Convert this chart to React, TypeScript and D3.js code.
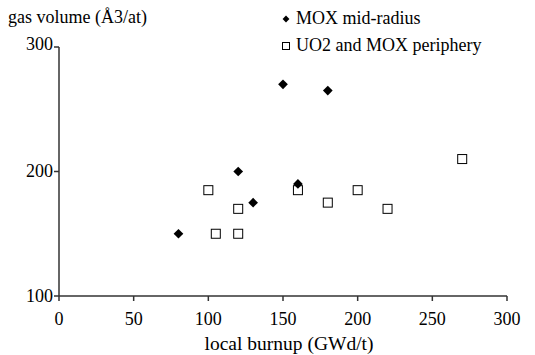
import React from "react";
import * as d3 from "d3";

const moxX = [80, 120, 130, 150, 160, 180];
const moxY = [150, 200, 175, 270, 190, 265];
const uoX = [100, 105, 120, 120, 160, 180, 200, 220, 270];
const uoY = [185, 150, 170, 150, 185, 175, 185, 170, 210];
const xTicks = [0, 50, 100, 150, 200, 250, 300];
const yTicks = [100, 200, 300];
const legendLabels = ["MOX mid-radius", "UO2 and MOX periphery"];

const W = 535, H = 355;
const FONT = "'Liberation Serif', 'Times New Roman', serif";

export default function App() {
  const x = d3.scaleLinear().domain([0, 300]).range([59, 507]);
  const y = d3.scaleLinear().domain([100, 300]).range([296, 47]);
  const diamond = d3.symbol().type(d3.symbolDiamond2).size(60)();
  const axisColor = "#333";
  return (
    <svg width={W} height={H} style={{ position: "absolute", left: 0, top: 0, background: "#fff" }}>
      <rect width={W} height={H} fill="#fff" />
      <line x1={x(0)} x2={x(0)} y1={y(300)} y2={y(100)} stroke={axisColor} strokeWidth={1.5} />
      <line x1={x(0)} x2={x(300)} y1={y(100)} y2={y(100)} stroke={axisColor} strokeWidth={1.5} />
      {yTicks.map((t) => (
        <g key={"y" + t}>
          <line x1={x(0) - 5} x2={x(0)} y1={y(t)} y2={y(t)} stroke={axisColor} strokeWidth={1.5} />
          <text x={x(0) - 6} y={y(t) - (t === 300 ? 3 : 0)} dy="0.33em" textAnchor="end" fontFamily={FONT} fontSize={18} fill="#000">{t}</text>
        </g>
      ))}
      {xTicks.map((t) => (
        <g key={"x" + t}>
          <line x1={x(t)} x2={x(t)} y1={y(100)} y2={y(100) + 5} stroke={axisColor} strokeWidth={1.5} />
          <text x={x(t)} y={y(100) + 29} textAnchor="middle" fontFamily={FONT} fontSize={18} fill="#000">{t}</text>
        </g>
      ))}
      <text x={289} y={350} textAnchor="middle" fontFamily={FONT} fontSize={19.5} fill="#000">local burnup (GWd/t)</text>
      <text x={8} y={23} fontFamily={FONT} fontSize={18} fill="#000">gas volume (Å3/at)</text>
      {uoX.map((v, i) => (
        <rect key={"u" + i} x={x(v) - 4.5} y={y(uoY[i]) - 4.5} width={9} height={9} fill="#fff" stroke="#000" strokeWidth={1} />
      ))}
      {moxX.map((v, i) => (
        <path key={"m" + i} d={diamond} transform={`translate(${x(v)},${y(moxY[i])})`} fill="#000" />
      ))}
      <path d={d3.symbol().type(d3.symbolDiamond2).size(30)()} transform="translate(286,19)" fill="#000" />
      <text x={296} y={24} fontFamily={FONT} fontSize={18} fill="#000">{legendLabels[0]}</text>
      <rect x={282.5} y={42.5} width={7} height={7} fill="#fff" stroke="#000" strokeWidth={1} />
      <text x={296} y={51} fontFamily={FONT} fontSize={18} fill="#000">{legendLabels[1]}</text>
    </svg>
  );
}
